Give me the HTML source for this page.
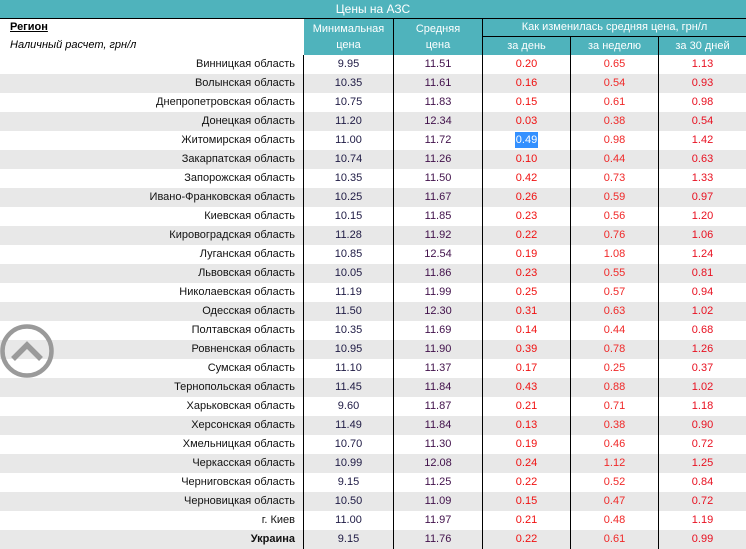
<!DOCTYPE html>
<html><head><meta charset="utf-8"><style>
body{margin:0;width:746px;height:546px;overflow:hidden;background:#fff;font-family:"Liberation Sans","DejaVu Sans",sans-serif;font-size:11px;position:relative}
.title{position:absolute;left:0;top:0;width:746px;height:18px;background:#4fb3bc;color:#fff;text-align:center;line-height:18px;font-size:12px;border-bottom:1px solid #000}
.h{position:absolute;background:#4fb3bc;color:#fff;text-align:center;font-size:11px;box-sizing:border-box;border-right:1px solid #000}
.rows{position:absolute;left:0;top:55px;width:746px}
.r{display:flex;height:19px;line-height:19px}
.r:nth-child(even){background:#e8e8e8}
.r span{display:block;box-sizing:border-box;text-align:center}
.r span:nth-child(1){width:304px;text-align:right;padding-right:8px;border-right:1px solid #000;color:#111}
.r span:nth-child(2){width:90px;border-right:1px solid #000;color:#1e1a44}
.r span:nth-child(3){width:89px;border-right:1px solid #000;color:#40104a}
.r span:nth-child(4){width:88px;border-right:1px solid #000;color:#f01010}
.r span:nth-child(5){width:88px;border-right:1px solid #000;color:#f02828}
.r span:nth-child(6){width:87px;color:#e81020}
.sel{background:#3390ff;color:#fff}
</style></head><body>
<div class="title">Цены на АЗС</div>
<div style="position:absolute;left:10px;top:21px;font-weight:bold;text-decoration:underline;font-size:11px">Регион</div>
<div style="position:absolute;left:10px;top:39px;font-style:italic;font-size:11px">Наличный расчет, грн/л</div>
<div class="h" style="left:304px;top:19px;width:90px;height:36px;line-height:16px;padding-top:2px">Минимальная<br>цена</div>
<div class="h" style="left:394px;top:19px;width:89px;height:36px;line-height:16px;padding-top:2px">Средняя<br>цена</div>
<div class="h" style="left:483px;top:19px;width:263px;height:18px;line-height:17px;border-right:none;border-bottom:1px solid #000">Как изменилась средняя цена, грн/л</div>
<div class="h" style="left:483px;top:37px;width:88px;height:18px;line-height:18px">за день</div>
<div class="h" style="left:571px;top:37px;width:88px;height:18px;line-height:18px">за неделю</div>
<div class="h" style="left:659px;top:37px;width:87px;height:18px;line-height:18px;border-right:none">за 30 дней</div>
<div class="rows">
<div class="r"><span>Винницкая область</span><span>9.95</span><span>11.51</span><span>0.20</span><span>0.65</span><span>1.13</span></div>
<div class="r"><span>Волынская область</span><span>10.35</span><span>11.61</span><span>0.16</span><span>0.54</span><span>0.93</span></div>
<div class="r"><span>Днепропетровская область</span><span>10.75</span><span>11.83</span><span>0.15</span><span>0.61</span><span>0.98</span></div>
<div class="r"><span>Донецкая область</span><span>11.20</span><span>12.34</span><span>0.03</span><span>0.38</span><span>0.54</span></div>
<div class="r"><span>Житомирская область</span><span>11.00</span><span>11.72</span><span><b class="sel" style="font-weight:normal;padding:2px 1px">0.49</b></span><span>0.98</span><span>1.42</span></div>
<div class="r"><span>Закарпатская область</span><span>10.74</span><span>11.26</span><span>0.10</span><span>0.44</span><span>0.63</span></div>
<div class="r"><span>Запорожская область</span><span>10.35</span><span>11.50</span><span>0.42</span><span>0.73</span><span>1.33</span></div>
<div class="r"><span>Ивано-Франковская область</span><span>10.25</span><span>11.67</span><span>0.26</span><span>0.59</span><span>0.97</span></div>
<div class="r"><span>Киевская область</span><span>10.15</span><span>11.85</span><span>0.23</span><span>0.56</span><span>1.20</span></div>
<div class="r"><span>Кировоградская область</span><span>11.28</span><span>11.92</span><span>0.22</span><span>0.76</span><span>1.06</span></div>
<div class="r"><span>Луганская область</span><span>10.85</span><span>12.54</span><span>0.19</span><span>1.08</span><span>1.24</span></div>
<div class="r"><span>Львовская область</span><span>10.05</span><span>11.86</span><span>0.23</span><span>0.55</span><span>0.81</span></div>
<div class="r"><span>Николаевская область</span><span>11.19</span><span>11.99</span><span>0.25</span><span>0.57</span><span>0.94</span></div>
<div class="r"><span>Одесская область</span><span>11.50</span><span>12.30</span><span>0.31</span><span>0.63</span><span>1.02</span></div>
<div class="r"><span>Полтавская область</span><span>10.35</span><span>11.69</span><span>0.14</span><span>0.44</span><span>0.68</span></div>
<div class="r"><span>Ровненская область</span><span>10.95</span><span>11.90</span><span>0.39</span><span>0.78</span><span>1.26</span></div>
<div class="r"><span>Сумская область</span><span>11.10</span><span>11.37</span><span>0.17</span><span>0.25</span><span>0.37</span></div>
<div class="r"><span>Тернопольская область</span><span>11.45</span><span>11.84</span><span>0.43</span><span>0.88</span><span>1.02</span></div>
<div class="r"><span>Харьковская область</span><span>9.60</span><span>11.87</span><span>0.21</span><span>0.71</span><span>1.18</span></div>
<div class="r"><span>Херсонская область</span><span>11.49</span><span>11.84</span><span>0.13</span><span>0.38</span><span>0.90</span></div>
<div class="r"><span>Хмельницкая область</span><span>10.70</span><span>11.30</span><span>0.19</span><span>0.46</span><span>0.72</span></div>
<div class="r"><span>Черкасская область</span><span>10.99</span><span>12.08</span><span>0.24</span><span>1.12</span><span>1.25</span></div>
<div class="r"><span>Черниговская область</span><span>9.15</span><span>11.25</span><span>0.22</span><span>0.52</span><span>0.84</span></div>
<div class="r"><span>Черновицкая область</span><span>10.50</span><span>11.09</span><span>0.15</span><span>0.47</span><span>0.72</span></div>
<div class="r"><span>г. Киев</span><span>11.00</span><span>11.97</span><span>0.21</span><span>0.48</span><span>1.19</span></div>
<div class="r"><span style="font-weight:bold">Украина</span><span>9.15</span><span>11.76</span><span>0.22</span><span>0.61</span><span>0.99</span></div>
</div>
<svg style="position:absolute;left:0;top:323px" width="56" height="56" viewBox="0 0 56 56">
<circle cx="27" cy="28" r="24.5" fill="none" stroke="#9a9a9a" stroke-width="4.5"/>
<polyline points="13,36 27,22 41,36" fill="none" stroke="#9a9a9a" stroke-width="5.5"/>
</svg>
</body></html>
